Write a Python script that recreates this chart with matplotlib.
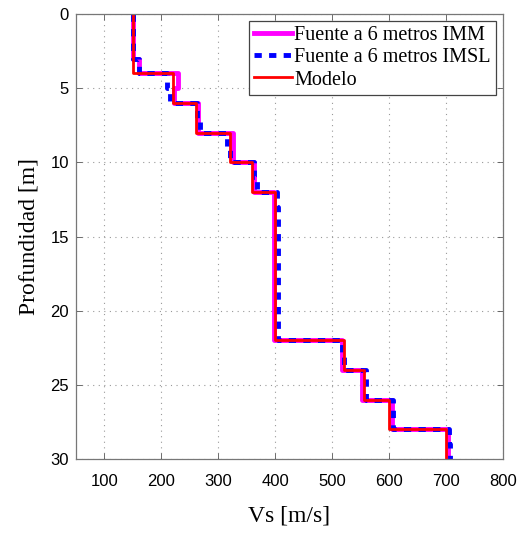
import numpy as np
import matplotlib.pyplot as plt

# layer limits [m] (1 m layers) and velocities [m/s]
depth_edges = np.arange(0, 31, 1)

vs_imm = [150, 150, 150, 160, 230, 222, 265, 265, 325, 325,
          362, 362, 398, 398, 398, 398, 398, 398, 398, 398,
          398, 398, 517, 517, 553, 553, 605, 605, 703, 703]
vs_imsl = [150, 150, 150, 160, 210, 215, 262, 268, 316, 321,
           362, 368, 403, 405, 405, 405, 405, 405, 405, 405,
           405, 405, 518, 520, 560, 560, 607, 607, 705, 707]
vs_model = [150, 150, 150, 150, 220, 220, 260, 260, 320, 320,
            360, 360, 400, 400, 400, 400, 400, 400, 400, 400,
            400, 400, 520, 520, 555, 555, 600, 600, 700, 700]


def steps(vs):
    # each layer drawn from its top to its bottom
    x = np.repeat(vs, 2)
    y = np.column_stack([depth_edges[:-1], depth_edges[1:]]).ravel()
    return x, y


serif = 'Liberation Serif'
sans = 'Liberation Sans'

fig = plt.figure(figsize=(5.22, 5.38), dpi=100)
ax = fig.add_axes([0.1456, 0.1468, 0.818, 0.827])

x, y = steps(vs_imm)
ax.plot(x, y, color='#ff00ff', lw=3.5, label='Fuente a 6 metros IMM')
x, y = steps(vs_imsl)
ax.plot(x, y, color='#0000ff', lw=3.5, ls=(0, (1.5, 1.5)), label='Fuente a 6 metros IMSL')
x, y = steps(vs_model)
ax.plot(x, y, color='#ff0000', lw=2, label='Modelo')

ax.set_xlim(50, 800)
ax.set_ylim(30, 0)
ax.set_xticks([100, 200, 300, 400, 500, 600, 700, 800])
ax.set_yticks([0, 5, 10, 15, 20, 25, 30])
ax.grid(True, ls=(0, (1, 4)), color='#999999', lw=0.8)
ax.tick_params(direction='in', top=True, right=True, length=4, width=0.6,
               colors='#555555', labelcolor='black')
ax.tick_params(axis='x', pad=11)
ax.tick_params(axis='y', pad=5)
for lab in ax.get_xticklabels() + ax.get_yticklabels():
    lab.set_fontfamily(sans)
    lab.set_fontsize(12)
for s in ax.spines.values():
    s.set_color('#777777')
    s.set_linewidth(0.9)

ax.set_xlabel('Vs [m/s]', family=serif, fontsize=17, labelpad=12)
ax.set_ylabel('Profundidad [m]', family=serif, fontsize=17, labelpad=8)

leg = ax.legend(loc='upper right', prop={'family': serif, 'size': 14.5},
                handlelength=1.9, handletextpad=0.1, borderpad=0.25,
                labelspacing=0.15, borderaxespad=0.35, fancybox=False,
                framealpha=1)
leg.get_frame().set_edgecolor('#444444')
leg.get_frame().set_linewidth(0.9)

fig.savefig('out.png', dpi=100)
